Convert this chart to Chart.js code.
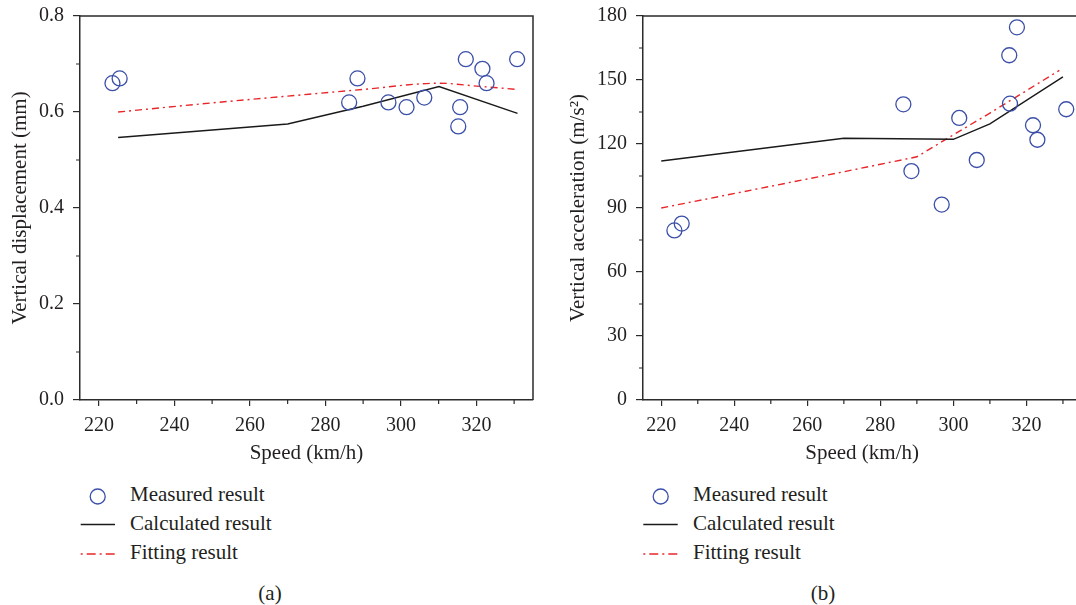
<!DOCTYPE html>
<html lang="en">
<head>
  <meta charset="UTF-8">
  <title>Speed response</title>
  <script src="https://cdn.jsdelivr.net/npm/chart.js"></script>
  <style>
    * {
      box-sizing: border-box;
      margin: 0;
      padding: 0;
    }

    body {
      width: 1076px;
      height: 605px;
      overflow: hidden;
      position: relative;
      background: #fff;
      font-family: 'Liberation Serif', 'Times New Roman', serif;
      color: #231f20;
    }

    canvas {
      position: absolute;
      top: 0;
    }

    #dispChart { left: 0; }
    #accChart { left: 540px; }

    .row {
      position: absolute;
      height: 28px;
      line-height: 28px;
      font-size: 21px;
      white-space: nowrap;
    }

    .row svg {
      position: absolute;
      top: 0;
    }

    .caption {
      position: absolute;
      width: 40px;
      text-align: center;
      font-size: 21px;
      line-height: 28px;
    }
  </style>
</head>
<body>
  <canvas id="dispChart" width="545" height="470"></canvas>
  <canvas id="accChart" width="550" height="470"></canvas>

  <!-- legend (a) -->
  <div class="row" style="left:78px; top:480px;">
    <svg width="40" height="28"><circle cx="19.7" cy="16.5" r="7.5" fill="none" stroke="#3b4fa8" stroke-width="1.3"/></svg>
    <span style="margin-left:52px;">Measured result</span>
  </div>
  <div class="row" style="left:78px; top:509px;">
    <svg width="40" height="28"><line x1="2.7" y1="15.5" x2="37" y2="15.5" stroke="#1a1a1a" stroke-width="1.4"/></svg>
    <span style="margin-left:52px;">Calculated result</span>
  </div>
  <div class="row" style="left:78px; top:538px;">
    <svg width="40" height="28"><line x1="2.7" y1="16" x2="37" y2="16" stroke="#e8262a" stroke-width="1.4" stroke-dasharray="2,4,9,4"/></svg>
    <span style="margin-left:52px;">Fitting result</span>
  </div>
  <div class="caption" style="left:250px; top:579px;">(a)</div>

  <!-- legend (b) -->
  <div class="row" style="left:641px; top:480px;">
    <svg width="40" height="28"><circle cx="19.7" cy="16.5" r="7.5" fill="none" stroke="#3b4fa8" stroke-width="1.3"/></svg>
    <span style="margin-left:52px;">Measured result</span>
  </div>
  <div class="row" style="left:641px; top:509px;">
    <svg width="40" height="28"><line x1="2.3" y1="15.5" x2="36.7" y2="15.5" stroke="#1a1a1a" stroke-width="1.4"/></svg>
    <span style="margin-left:52px;">Calculated result</span>
  </div>
  <div class="row" style="left:641px; top:538px;">
    <svg width="40" height="28"><line x1="2.3" y1="16" x2="36.7" y2="16" stroke="#e8262a" stroke-width="1.4" stroke-dasharray="2,4,9,4"/></svg>
    <span style="margin-left:52px;">Fitting result</span>
  </div>
  <div class="caption" style="left:803px; top:579px;">(b)</div>

  <script>
    // speed axis, shared by both panels
    const speedTicks = [220, 240, 260, 280, 300, 320];

    // (a) vertical displacement, mm
    const dispMeasuredSpeed = [223.6, 225.5, 286.3, 288.5, 296.7, 301.5, 306.2, 315.2, 315.7, 317.2, 321.6, 322.7, 330.8];
    const dispMeasured      = [0.66, 0.67, 0.62, 0.67, 0.62, 0.61, 0.63, 0.57, 0.61, 0.71, 0.69, 0.66, 0.71];
    const dispCalcSpeed     = [225.1, 270, 290, 310.1, 330.9];
    const dispCalc          = [0.547, 0.575, 0.612, 0.653, 0.597];
    const dispFitSpeed      = [225.1, 250, 270, 290, 310.1, 320, 330.9];
    const dispFit           = [0.600, 0.619, 0.633, 0.647, 0.660, 0.654, 0.647];
    const dispTicks         = [0, 0.2, 0.4, 0.6, 0.8];

    // (b) vertical acceleration, m/s2
    const accMeasuredSpeed = [223.6, 225.6, 286.3, 288.5, 296.8, 301.6, 306.4, 315.3, 315.5, 317.4, 321.8, 323.0, 330.9];
    const accMeasured      = [79.5, 82.7, 138.6, 107.3, 91.6, 132.2, 112.5, 161.6, 138.9, 174.7, 128.8, 122.0, 136.3];
    const accCalcSpeed     = [220, 270, 300, 310, 330];
    const accCalc          = [112.0, 122.7, 122.2, 129.4, 151.5];
    const accFitSpeed      = [220, 245, 270, 290, 300, 310, 320, 329];
    const accFit           = [90.0, 98.5, 107.0, 114.0, 124.3, 134.5, 145.0, 154.5];
    const accTicks         = [0, 30, 60, 90, 120, 150, 180];

    const axisColor = '#2b2b2b';
    const textColor = '#231f20';
    const serif = "'Liberation Serif', 'Times New Roman', serif";

    const toPoints = (xs, ys) => xs.map((x, i) => ({ x, y: ys[i] }));

    // top/right frame and the short minor ticks between the labelled ones
    const frameAndMinorTicks = {
      id: 'frameAndMinorTicks',
      afterDraw(chart, args, opts) {
        const { ctx, chartArea: a, scales: { x, y } } = chart;
        ctx.save();
        ctx.strokeStyle = axisColor;
        ctx.lineWidth = 1.5;
        ctx.beginPath();
        ctx.moveTo(a.left, a.top);
        ctx.lineTo(a.right, a.top);
        ctx.lineTo(a.right, a.bottom);
        ctx.stroke();

        ctx.lineWidth = 1.2;
        ctx.beginPath();
        opts.xMinor.forEach(v => {
          const px = x.getPixelForValue(v);
          ctx.moveTo(px, a.bottom);
          ctx.lineTo(px, a.bottom + 4);
        });
        opts.yMinor.forEach(v => {
          const py = y.getPixelForValue(v);
          ctx.moveTo(a.left, py);
          ctx.lineTo(a.left - 4, py);
        });
        ctx.stroke();
        ctx.restore();
      }
    };

    const midpoints = ticks => ticks.slice(0, -1).map((v, i) => (v + ticks[i + 1]) / 2);

    function makeChart(id, o) {
      const xMinor = midpoints(speedTicks).concat([speedTicks[speedTicks.length - 1] + 10]);
      return new Chart(document.getElementById(id), {
        type: 'scatter',
        data: {
          datasets: [
            {
              label: 'Measured result',
              data: toPoints(o.measuredSpeed, o.measured),
              pointStyle: 'circle',
              pointRadius: 7.5,
              borderWidth: 1.3,
              borderColor: '#3b4fa8',
              backgroundColor: 'rgba(0,0,0,0)'
            },
            {
              label: 'Calculated result',
              data: toPoints(o.calcSpeed, o.calc),
              showLine: true,
              pointRadius: 0,
              borderWidth: 1.4,
              borderColor: '#1a1a1a'
            },
            {
              label: 'Fitting result',
              data: toPoints(o.fitSpeed, o.fit),
              showLine: true,
              pointRadius: 0,
              borderWidth: 1.4,
              borderColor: '#e8262a',
              borderDash: [7, 4, 2, 4],
              cubicInterpolationMode: o.smoothFit ? 'monotone' : 'default'
            }
          ]
        },
        options: {
          responsive: false,
          animation: false,
          devicePixelRatio: 1,
          layout: { padding: { top: 16, right: o.padRight, left: 0, bottom: 0 } },
          plugins: {
            legend: { display: false },
            tooltip: { enabled: false },
            frameAndMinorTicks: { xMinor, yMinor: midpoints(o.yTicks) }
          },
          scales: {
            x: {
              type: 'linear',
              min: 215,
              max: 335,
              afterFit: s => { s.height = 70; s.paddingLeft = 0; s.paddingRight = 0; },
              afterBuildTicks: s => { s.ticks = speedTicks.map(v => ({ value: v })); },
              border: { display: true, color: axisColor, width: 1.5 },
              grid: { drawOnChartArea: false, drawTicks: true, tickLength: 6, color: axisColor, lineWidth: 1.2 },
              ticks: { color: textColor, font: { family: serif, size: 20 }, padding: 8, maxRotation: 0 },
              title: { display: true, text: 'Speed (km/h)', color: textColor, font: { family: serif, size: 21 }, padding: { top: 0, bottom: 4 } }
            },
            y: {
              type: 'linear',
              min: o.yTicks[0],
              max: o.yTicks[o.yTicks.length - 1],
              afterFit: s => { s.width = o.yAxisWidth; s.paddingTop = 0; s.paddingBottom = 0; },
              afterBuildTicks: s => { s.ticks = o.yTicks.map(v => ({ value: v })); },
              border: { display: true, color: axisColor, width: 1.5 },
              grid: { drawOnChartArea: false, drawTicks: true, tickLength: 7, color: axisColor, lineWidth: 1.2 },
              ticks: { color: textColor, font: { family: serif, size: 20 }, padding: 9, callback: o.tickFormat },
              title: { display: true, text: o.yTitle, color: textColor, font: { family: serif, size: 21 }, padding: { top: o.titlePad, bottom: 0 } }
            }
          }
        },
        plugins: [frameAndMinorTicks]
      });
    }

    makeChart('dispChart', {
      measuredSpeed: dispMeasuredSpeed, measured: dispMeasured,
      calcSpeed: dispCalcSpeed, calc: dispCalc,
      fitSpeed: dispFitSpeed, fit: dispFit, smoothFit: true,
      yTicks: dispTicks,
      tickFormat: v => v.toFixed(1),
      yTitle: 'Vertical displacement (mm)',
      yAxisWidth: 80,
      titlePad: 8,
      padRight: 12
    });

    makeChart('accChart', {
      measuredSpeed: accMeasuredSpeed, measured: accMeasured,
      calcSpeed: accCalcSpeed, calc: accCalc,
      fitSpeed: accFitSpeed, fit: accFit, smoothFit: false,
      yTicks: accTicks,
      tickFormat: v => String(v),
      yTitle: 'Vertical acceleration (m/s²)',
      yAxisWidth: 103,
      titlePad: 26,
      padRight: 4
    });
  </script>
</body>
</html>
